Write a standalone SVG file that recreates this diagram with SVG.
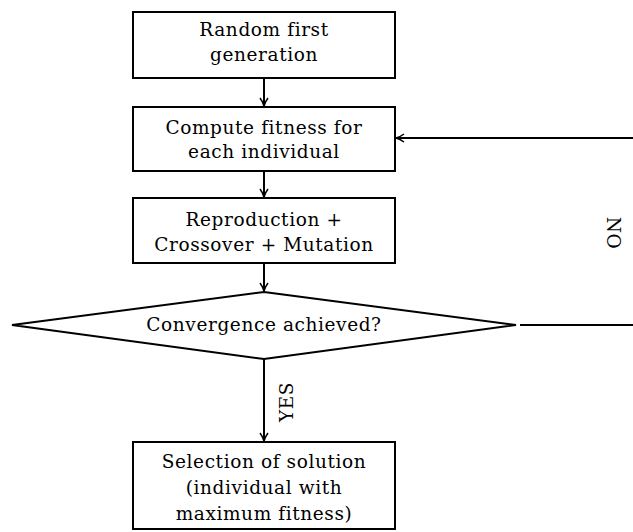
<svg xmlns="http://www.w3.org/2000/svg" width="633" height="532" viewBox="0 0 633 532">
<style>
.box{fill:#fff;stroke:#000;stroke-width:2}
.t{font-family:'DejaVu Serif',serif;font-size:18.5px;letter-spacing:0.6px;text-anchor:middle;fill:#000}
.c{fill:none;stroke:#000;stroke-width:2}
</style>
<defs>
<marker id="ah" viewBox="0 0 10 10" refX="9" refY="5" markerWidth="10" markerHeight="10" markerUnits="userSpaceOnUse" orient="auto">
<path d="M1,1 Q5,4 9,5 Q5,6 1,9" fill="none" stroke="#000" stroke-width="1.5"/>
</marker>
</defs>
<rect width="633" height="532" fill="#fff"/>
<g id="connectors">
<line class="c" x1="264" y1="78" x2="264" y2="106" marker-end="url(#ah)"/>
<line class="c" x1="264" y1="171" x2="264" y2="197" marker-end="url(#ah)"/>
<line class="c" x1="264" y1="263" x2="264" y2="291" marker-end="url(#ah)"/>
<line class="c" x1="264" y1="359" x2="264" y2="441" marker-end="url(#ah)"/>
<polyline class="c" points="520,325 633,325"/>
<line class="c" x1="633" y1="138" x2="396" y2="138" marker-end="url(#ah)"/>
<text class="t" font-family="DejaVu Serif" transform="translate(293,402) rotate(-90)">YES</text>
<text class="t" font-family="DejaVu Serif" transform="translate(607,233) rotate(90)">NO</text>
</g>
<g id="n1"><rect class="box" x="133" y="12" width="262" height="66"/>
<text class="t" font-family="DejaVu Serif" x="264" y="36">Random first</text><text class="t" font-family="DejaVu Serif" x="264" y="61">generation</text></g>
<g id="n2"><rect class="box" x="133" y="107" width="262" height="64"/>
<text class="t" font-family="DejaVu Serif" x="264" y="134">Compute fitness for</text><text class="t" font-family="DejaVu Serif" x="264" y="158">each individual</text></g>
<g id="n3"><rect class="box" x="133" y="198" width="262" height="65"/>
<text class="t" font-family="DejaVu Serif" x="264" y="226">Reproduction +</text><text class="t" font-family="DejaVu Serif" x="264" y="251">Crossover + Mutation</text></g>
<g id="n4"><polygon class="box" points="264,292 516,325 264,359 12,325"/>
<text class="t" font-family="DejaVu Serif" x="264" y="331">Convergence achieved?</text></g>
<g id="n5"><rect class="box" x="133" y="442" width="262" height="87"/>
<text class="t" font-family="DejaVu Serif" x="264" y="468">Selection of solution</text><text class="t" font-family="DejaVu Serif" x="264" y="494">(individual with</text><text class="t" font-family="DejaVu Serif" x="264" y="520">maximum fitness)</text></g>
</svg>
